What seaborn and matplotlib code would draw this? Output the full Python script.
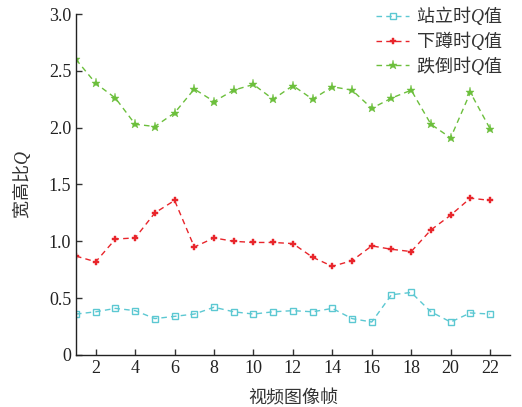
import numpy as np
import pandas as pd
import matplotlib
matplotlib.use('Agg')
import matplotlib.pyplot as plt
import seaborn as sns

# values
frames = list(range(1, 23))
stand_q = [0.36, 0.38, 0.41, 0.39, 0.32, 0.34, 0.36, 0.42, 0.38, 0.36, 0.38,
           0.39, 0.38, 0.41, 0.32, 0.29, 0.53, 0.55, 0.38, 0.29, 0.37, 0.36]
squat_q = [0.87, 0.82, 1.02, 1.03, 1.25, 1.36, 0.95, 1.03, 1.00, 0.99, 0.99,
           0.98, 0.86, 0.78, 0.83, 0.96, 0.93, 0.91, 1.10, 1.23, 1.38, 1.36]
fall_q = [2.60, 2.39, 2.26, 2.03, 2.01, 2.13, 2.34, 2.23, 2.33, 2.38, 2.25,
          2.37, 2.25, 2.36, 2.33, 2.17, 2.26, 2.33, 2.03, 1.91, 2.31, 1.99]
series_names = ['站立时$Q$值', '下蹲时$Q$值', '跌倒时$Q$值']
colors = ['#5cc8d2', '#e8252b', '#6cbf3c']
markers = ['s', 'P', '*']

df = pd.DataFrame({'frame': frames * 3,
                   'Q': stand_q + squat_q + fall_q,
                   'kind': np.repeat(series_names, len(frames))})

sns.set_style('ticks')
plt.rcParams['font.family'] = ['Liberation Serif', 'Noto Sans CJK SC']
# italic Q inside the Chinese labels
plt.rcParams['mathtext.fontset'] = 'custom'
plt.rcParams['mathtext.rm'] = 'Liberation Serif'
plt.rcParams['mathtext.it'] = 'Liberation Serif:italic'
cjk = 'Noto Sans CJK SC'

fig = plt.figure(figsize=(5.22, 4.07), dpi=100)
ax = fig.add_axes([0.1456, 0.1278, 0.831, 0.8378])

for name, c, m in zip(series_names, colors, markers):
    sub = df[df['kind'] == name]
    if m == 's':
        kw = dict(markerfacecolor='none', markeredgewidth=1.0, markersize=5)
    elif m == 'P':
        kw = dict(markeredgewidth=0.3, markersize=5)
    else:
        kw = dict(markeredgewidth=0.3, markersize=6.5)
    sns.lineplot(data=sub, x='frame', y='Q', ax=ax, color=c, marker=m,
                 markeredgecolor=c, linestyle=(0, (4, 3)), linewidth=1.0,
                 label=name, **kw)

ax.set_xlim(1, 23)
ax.set_ylim(0, 3.0)
ax.set_xticks(range(2, 23, 2))
ax.set_yticks([0, 0.5, 1.0, 1.5, 2.0, 2.5, 3.0])
ax.set_yticklabels(['0', '0.5', '1.0', '1.5', '2.0', '2.5', '3.0'])
ax.tick_params(direction='in', labelsize=13, length=4, width=1, colors='#333333')
for lab in ax.get_xticklabels() + ax.get_yticklabels():
    lab.set_color('#222222')
sns.despine(ax=ax)
for s in ['left', 'bottom']:
    ax.spines[s].set_linewidth(1.0)
    ax.spines[s].set_color('#222222')

ax.set_xlabel('视频图像帧', fontsize=13, color='#333333', family=cjk)
ax.set_ylabel('宽高比$Q$', fontsize=13, color='#333333', family=cjk)
ax.xaxis.set_label_coords(0.5, -0.1)
ax.yaxis.set_label_coords(-0.1, 0.5)

leg = ax.legend(loc='upper right', frameon=False,
                prop={'family': cjk, 'size': 13},
                handlelength=1.8, handletextpad=0.4, labelspacing=0.1,
                borderaxespad=0.0, bbox_to_anchor=(1.0, 1.05))
for t in leg.get_texts():
    t.set_color('#333333')

fig.savefig('out.png', dpi=100)
